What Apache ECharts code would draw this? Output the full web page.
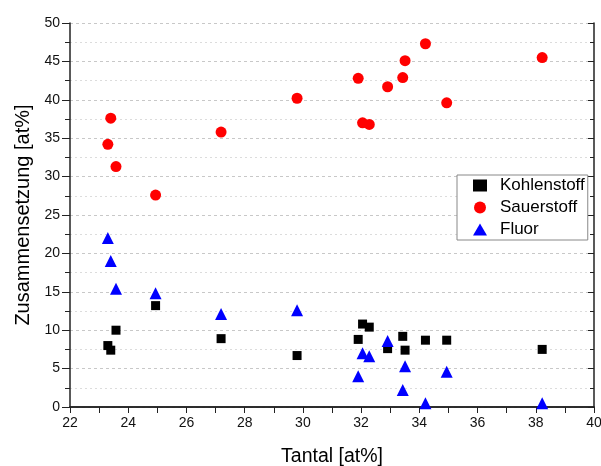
<!DOCTYPE html>
<html>
<head>
<meta charset="utf-8">
<script src="https://cdn.jsdelivr.net/npm/echarts@6/dist/echarts.min.js"></script>
<style>
  html, body { margin: 0; padding: 0; background: #fff; }
  #chart { width: 601px; height: 466px; }
</style>
</head>
<body>
<div id="chart"></div>
<script>
// Tantal-Gehalt (x) und Zusammensetzung (y)
const tantal = [23.30, 23.40, 23.58, 24.94, 27.19, 29.80, 31.90, 32.05, 32.28, 32.91, 33.43, 33.51, 34.21, 34.94, 38.22];
const kohlenstoff = [8.0, 7.4, 10.0, 13.2, 8.9, 6.7, 8.8, 10.8, 10.4, 7.6, 9.2, 7.4, 8.7, 8.7, 7.5];
const sauerstoff = [34.2, 37.6, 31.3, 27.6, 35.8, 40.2, 42.8, 37.0, 36.8, 41.7, 42.9, 45.1, 47.3, 39.6, 45.5];
const fluor = [22.0, 19.0, 15.4, 14.8, 12.1, 12.6, 4.0, 7.0, 6.6, 8.6, 2.2, 5.3, 0.5, 4.6, 0.5];

const font = 'Liberation Sans, Arial, sans-serif';

function pairs(ys) {
  return tantal.map((x, i) => [x, ys[i]]);
}

const myChart = echarts.init(document.getElementById('chart'));

const option = {
  animation: false,
  textStyle: { fontFamily: font },
  grid: { left: 70, right: 7, top: 23, bottom: 59, outerBoundsMode: 'none' },
  legend: {
    orient: 'vertical',
    left: 457,
    top: 175,
    padding: [2, 3, 2, 16],
    itemGap: 5,
    itemWidth: 14,
    itemHeight: 12,
    borderColor: '#888',
    borderWidth: 1,
    borderRadius: 0,
    backgroundColor: '#fff',
    textStyle: { fontFamily: font, fontSize: 17, color: '#000', padding: [0, 0, 0, 8] },
    data: ['Kohlenstoff', 'Sauerstoff', 'Fluor']
  },
  xAxis: [
    {
      type: 'value',
      min: 22, max: 40, interval: 2,
      name: 'Tantal [at%]',
      nameLocation: 'middle',
      nameGap: 40,
      nameTextStyle: { fontFamily: font, fontSize: 19.5, color: '#000' },
      axisLine: { lineStyle: { color: '#222', width: 1.5 } },
      axisTick: { length: 6, lineStyle: { color: '#222' } },
      minorTick: { show: true, splitNumber: 2, length: 4, lineStyle: { color: '#222' } },
      axisLabel: { fontFamily: font, fontSize: 14, color: '#111', margin: 9 },
      splitLine: { show: false }
    },
    {
      type: 'value', position: 'top',
      min: 22, max: 40, interval: 2,
      axisLine: { show: true, lineStyle: { color: '#222', width: 1.5 } },
      axisTick: { show: true, inside: true, length: 6, lineStyle: { color: '#222' } },
      minorTick: { show: true, splitNumber: 2, length: 6, lineStyle: { color: '#222' } },
      axisLabel: { show: false },
      splitLine: { show: false }
    }
  ],
  yAxis: [
    {
      type: 'value',
      min: 0, max: 50, interval: 5,
      name: 'Zusammensetzung [at%]',
      nameLocation: 'middle',
      nameGap: 32,
      nameTextStyle: { fontFamily: font, fontSize: 20, color: '#000' },
      axisLine: { show: true, lineStyle: { color: '#222', width: 1.5 } },
      axisTick: { show: true, length: 8, lineStyle: { color: '#222' } },
      minorTick: { show: true, splitNumber: 2, length: 5, lineStyle: { color: '#222' } },
      axisLabel: { fontFamily: font, fontSize: 14, color: '#111', margin: 10 },
      splitLine: { show: true, lineStyle: { color: '#c8c8c8', type: [3, 3] } },
      minorSplitLine: { show: true, lineStyle: { color: '#dcdcdc', type: [2, 3] } }
    },
    {
      type: 'value', position: 'right',
      min: 0, max: 50, interval: 5,
      axisLine: { show: true, lineStyle: { color: '#222', width: 1.5 } },
      axisTick: { show: true, inside: true, length: 6, lineStyle: { color: '#222' } },
      minorTick: { show: true, splitNumber: 2, length: 4, lineStyle: { color: '#222' } },
      axisLabel: { show: false },
      splitLine: { show: false }
    }
  ],
  series: [
    {
      name: 'Kohlenstoff',
      type: 'scatter',
      symbol: 'rect',
      symbolSize: 9,
      itemStyle: { color: '#000', opacity: 1 },
      data: pairs(kohlenstoff)
    },
    {
      name: 'Sauerstoff',
      type: 'scatter',
      symbol: 'circle',
      symbolSize: 11,
      itemStyle: { color: '#ff0000', opacity: 1 },
      data: pairs(sauerstoff)
    },
    {
      name: 'Fluor',
      type: 'scatter',
      symbol: 'triangle',
      symbolSize: 12,
      itemStyle: { color: '#0000ff', opacity: 1 },
      data: pairs(fluor)
    }
  ]
};

myChart.setOption(option);
</script>
</body>
</html>
